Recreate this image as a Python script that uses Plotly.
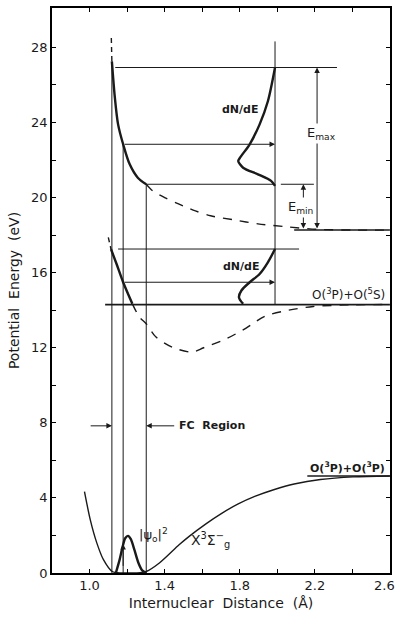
import plotly.graph_objects as go

# ---------------- data ----------------
# Ground state X3Sigma_g- potential
gs_r = [0.973, 1.004, 1.039, 1.074, 1.121, 1.170, 1.210, 1.250, 1.302, 1.372, 1.477, 1.529,
        1.620, 1.704, 1.792, 1.880, 1.985, 2.090, 2.230, 2.405, 2.600]
gs_E = [4.33, 2.83, 1.59, 0.71, 0.08, 0.00, 0.00, 0.00, 0.08, 0.53, 1.50, 1.94,
        2.62, 3.18, 3.68, 4.08, 4.45, 4.74, 4.98, 5.12, 5.17]

# |psi_0|^2 vibrational wavefunction
psi_r = [1.140, 1.160, 1.175, 1.190, 1.205, 1.220, 1.240, 1.260, 1.280, 1.302]
psi_E = [0.00, 0.70, 1.35, 1.85, 1.98, 1.80, 1.20, 0.55, 0.15, 0.00]

# Upper repulsive state (-> 18.27 eV limit)
up_top_r = [1.116, 1.119]
up_top_E = [28.5, 27.26]
up_fc_r = [1.119, 1.135, 1.152, 1.179, 1.214, 1.257, 1.302]
up_fc_E = [27.26, 25.31, 23.90, 22.84, 21.77, 21.06, 20.71]
up_out_r = [1.302, 1.336, 1.400, 1.477, 1.564, 1.645, 1.766, 1.897, 2.055, 2.212, 2.400, 2.600]
up_out_E = [20.71, 20.36, 20.00, 19.65, 19.29, 19.03, 18.82, 18.60, 18.44, 18.31, 18.27, 18.27]

# O(3P)+O(5S) state
mid_top_r = [1.100, 1.114]
mid_top_E = [17.88, 17.26]
mid_fc_r = [1.114, 1.144, 1.179, 1.228]
mid_fc_E = [17.26, 16.46, 15.49, 14.34]
mid_out_r = [1.228, 1.266, 1.302, 1.354, 1.441, 1.545, 1.608, 1.729, 1.834, 1.934, 2.060,
             2.191, 2.410, 2.600]
mid_out_E = [14.34, 13.63, 13.28, 12.57, 12.03, 11.77, 12.00, 12.48, 13.05, 13.68, 14.00,
             14.20, 14.29, 14.30]

# Energy distributions dN/dE (drawn against the r = 1.988 baseline)
dn_up_r = [1.988, 1.950, 1.906, 1.853, 1.801, 1.792, 1.818, 1.897, 1.967, 1.988]
dn_up_E = [26.93, 25.13, 23.90, 22.84, 22.12, 21.95, 21.59, 21.24, 20.89, 20.62]
dn_lo_r = [1.988, 1.950, 1.906, 1.853, 1.809, 1.796, 1.818]
dn_lo_E = [17.26, 16.55, 15.93, 15.49, 15.05, 14.69, 14.34]

# Franck-Condon region boundaries (r) and the energy where each stops
fc_r = [1.119, 1.179, 1.302]
fc_top = [27.26, 22.84, 20.71]

# Horizontal reference levels: (E, r_start, r_end)
lvl_E = [26.93, 20.71, 18.27, 17.26, 14.30, 5.17]
lvl_r0 = [1.137, 1.302, 2.090, 1.152, 1.083, 2.160]
lvl_r1 = [2.318, 1.988, 2.600, 2.116, 2.600, 2.600]
lvl_extra = (20.71, 2.019, 2.195)

# Arrowed energy levels to the dN/dE baseline
arr_E = [22.84, 15.49]
arr_r0 = 1.179
dn_base_r = 1.988
dn_base_E = [14.30, 28.32]

# E_max / E_min
emax_r, emax_E = 2.212, [26.93, 18.27]
emin_r, emin_E = 2.139, [20.71, 18.27]

# FC region arrows
fc_arrow_E = 7.84
fc_left = [0.998, 1.119]
fc_right = [1.459, 1.302]

x_ticks = [0.8, 1.0, 1.2, 1.4, 1.6, 1.8, 2.0, 2.2, 2.4, 2.6]
x_labels = ["", "1.0", "", "1.4", "", "1.8", "", "2.2", "", ""]
x_edge_label = (2.6, "2.6")
y_ticks = list(range(0, 30, 2))
y_labels = [str(v) if v % 4 == 0 else "" for v in y_ticks]

# ---------------- figure ----------------
INK = "#1a1a1a"
DASH = "9px,8px"
FONT = "DejaVu Sans"
fig = go.Figure()


def line(r, E, width=1.0, dash="solid", spline=True, color=INK):
    fig.add_trace(go.Scatter(
        x=r, y=E, mode="lines",
        line=dict(color=color, width=width, dash=dash,
                  shape="spline" if spline else "linear", smoothing=0.8),
        hoverinfo="skip", showlegend=False, cliponaxis=True))


# potential curves
line(gs_r, gs_E, width=1.4)
line(psi_r, psi_E, width=2.4)
line(up_top_r, up_top_E, width=1.4, dash="5px,4px", spline=False)
line(up_fc_r, up_fc_E, width=2.4)
line(up_out_r, up_out_E, width=1.4, dash=DASH)
line(mid_top_r, mid_top_E, width=1.4, dash="5px,4px", spline=False)
line(mid_fc_r, mid_fc_E, width=2.4)
line(mid_out_r, mid_out_E, width=1.4, dash=DASH)
line(dn_up_r, dn_up_E, width=2.4)
line(dn_lo_r, dn_lo_E, width=2.4)

# vertical FC lines
for r, top in zip(fc_r, fc_top):
    line([r, r], [0, top], width=1.0, spline=False)

# dN/dE baseline
line([dn_base_r, dn_base_r], dn_base_E, width=1.0, spline=False)

# horizontal levels
for E, r0, r1 in zip(lvl_E, lvl_r0, lvl_r1):
    w = 1.6 if E in (18.27, 5.17, 14.30) else 1.0
    line([r0, r1], [E, E], width=w, spline=False)
line([lvl_extra[1], lvl_extra[2]], [lvl_extra[0]] * 2, width=1.0, spline=False)

annotations = []


def arrow(x, y, ax, ay, side="end"):
    annotations.append(dict(x=x, y=y, ax=ax, ay=ay, xref="x", yref="y", axref="x", ayref="y",
                            text="", showarrow=True, arrowhead=2, arrowsize=1.1,
                            arrowwidth=1.0, arrowcolor=INK, arrowside=side))


for E in arr_E:
    arrow(dn_base_r, E, arr_r0, E)
arrow(emax_r, emax_E[0], emax_r, emax_E[1], side="end+start")
arrow(emin_r, emin_E[0], emin_r, emin_E[1], side="end+start")
arrow(fc_left[1], fc_arrow_E, fc_left[0], fc_arrow_E)
arrow(fc_right[1], fc_arrow_E, fc_right[0], fc_arrow_E)
arrow(fc_r[1], 1.55, fc_r[1], 0.3)


def label(x, y, text, size=12, bg=None, xanchor="center", bold=False):
    annotations.append(dict(x=x, y=y, xref="x", yref="y", text=f"<b>{text}</b>" if bold else text,
                            showarrow=False, xanchor=xanchor, yanchor="middle",
                            font=dict(family=FONT, size=size, color=INK),
                            bgcolor=bg, borderpad=1))


label(1.803, 24.68, "dN/dE", size=11, bold=True)
label(1.808, 16.32, "dN/dE", size=11, bold=True)
label(2.238, 23.4, "E<sub>max</sub>", size=13, bg="white")
label(2.123, 19.48, "E<sub>min</sub>", size=13, bg="white")
label(2.585, 14.85, "O(<sup>3</sup>P)+O(<sup>5</sup>S)", size=12, xanchor="right")
label(2.585, 5.6, "O(<sup>3</sup>P)+O(<sup>3</sup>P)", size=11, xanchor="right", bold=True)
label(1.467, 7.84, "FC  Region", size=11, xanchor="left", bold=True)
label(1.255, 2.0, "|ψ<sub>o</sub>|<sup>2</sup>", size=13, xanchor="left")
label(1.53, 1.75, "X<sup>3</sup>Σ<sup>−</sup><sub>g</sub>", size=14, xanchor="left")

# right-edge tick label, nudged so it stays inside the page
annotations.append(dict(x=x_edge_label[0], y=0, xref="x", yref="paper", text=x_edge_label[1],
                        showarrow=False, xanchor="right", yanchor="top", yshift=-3, xshift=7,
                        font=dict(family=FONT, size=13, color=INK)))

axis_common = dict(showline=True, linecolor="black", linewidth=1.6, mirror="ticks",
                   ticks="inside", ticklen=4, tickwidth=1.2, tickcolor="black",
                   showgrid=False, zeroline=False,
                   tickfont=dict(family=FONT, size=13, color=INK))

fig.update_layout(
    width=398, height=618,
    margin=dict(l=52, r=8, t=6, b=45),
    paper_bgcolor="white", plot_bgcolor="white",
    xaxis=dict(range=[0.8, 2.6005], tickvals=x_ticks, ticktext=x_labels,
               title=dict(text="Internuclear  Distance  (Å)", standoff=6,
                          font=dict(family=FONT, size=14, color=INK)),
               **axis_common),
    yaxis=dict(range=[0, 30.1], tickvals=y_ticks, ticktext=y_labels,
               title=dict(text="Potential  Energy  (eV)", standoff=8,
                          font=dict(family=FONT, size=14, color=INK)),
               **axis_common),
    annotations=annotations,
    showlegend=False,
)

fig.write_html("out.html")
